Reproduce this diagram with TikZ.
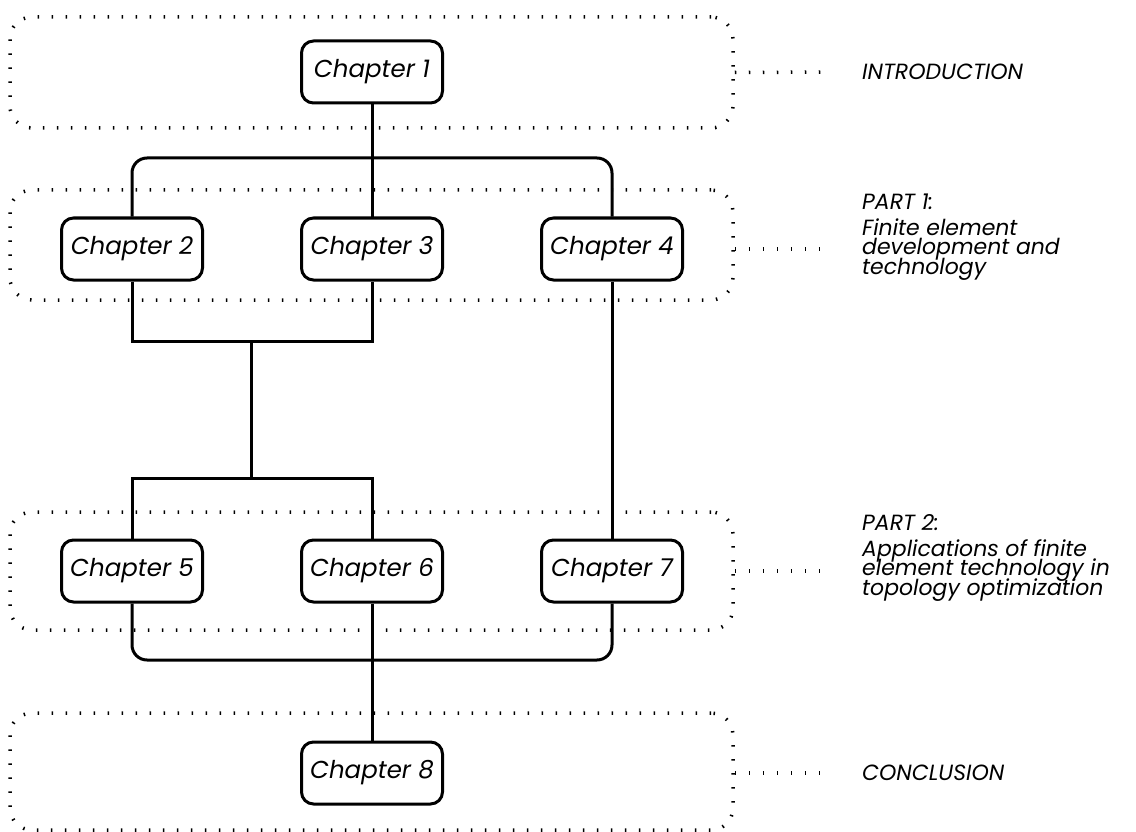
\documentclass[tikz,border=0pt]{standalone}
\usepackage{fontspec}
\setmainfont{Poppins}
\newcommand\tightlines{\lineskiplimit=-30pt\relax}
\tikzset{
  chap/.style={draw, line width=3pt, rounded corners=12pt, minimum width=141pt, minimum height=62pt, inner sep=0pt, font=\itshape\fontsize{24.5}{24.5}\selectfont},
  grp/.style={draw, line width=3.5pt, dash pattern=on 1.5pt off 12.5pt, rounded corners=22pt, minimum width=723pt, inner sep=0pt},
  lbl/.style={align=left, inner sep=0pt, font=\itshape\fontsize{22}{19.5}\selectfont\tightlines},
  conn/.style={line width=3pt},
  leader/.style={line width=3.5pt, dash pattern=on 1.5pt off 12.5pt}
}
\begin{document}
\begin{tikzpicture}[x=1pt, y=-1pt]
				\useasboundingbox (0,0) rectangle (1136,832);
				% 1. 虚线分组框 (最底层)
				\node[grp, minimum height=111pt] (intro) at (371.5, 72.5) {};
				\node[grp, minimum height=110pt] (part1) at (371.5, 245) {};
				\node[grp, minimum height=118pt] (part2) at (371.5, 571) {};
				\node[grp, minimum height=117pt] (concl) at (371.5, 771.5) {};
				
				% 2. 章节框
				\node[chap] (c1) at (372, 72) {Chapter 1};
				\node[chap] (c2) at (132, 249) {Chapter 2};
				\node[chap] (c3) at (372, 249) {Chapter 3};
				\node[chap] (c4) at (612, 249) {Chapter 4};
				\node[chap] (c5) at (132, 571) {Chapter 5};
				\node[chap] (c6) at (372, 571) {Chapter 6};
				\node[chap] (c7) at (612, 571) {Chapter 7};
				\node[chap] (c8) at (372, 773) {Chapter 8};
				
				% 3. 连接线
				\coordinate (bus1) at (372, 158);
				\coordinate (bus2) at (251, 341);
				\coordinate (bus3) at (251, 478);
				\coordinate (bus4) at (372, 660);
				\draw[conn] (c1.south) -- (c3.north);
				\draw[conn, rounded corners=15pt] (c2.north) |- (bus1) -| (c4.north);
				\draw[conn] (c2.south) |- (bus2) -| (c3.south);
				\draw[conn] (bus2) -- (bus3);
				\draw[conn] (c5.north) |- (bus3) -| (c6.north);
				\draw[conn] (c4.south) -- (c7.north);
				\draw[conn, rounded corners=15pt] (c5.south) |- (bus4) -| (c7.south);
				\draw[conn] (c6.south) -- (c8.north);
				
				% 4. 右侧说明
				\node[lbl, anchor=west] (lintro) at (862, 72) {INTRODUCTION};
				\node[lbl, anchor=base west] (lpart1) at (862, 274) {PART 1:\\[6pt]Finite element\\development and\\technology};
				\node[lbl, anchor=base west] (lpart2) at (862, 595) {PART 2:\\[6pt]Applications of finite\\element technology in\\topology optimization};
				\node[lbl, anchor=west] (lconcl) at (862, 773) {CONCLUSION};
				\draw[leader] (intro.east) -- (830, 72);
				\draw[leader] (part1.east |- c4) -- (830, 249);
				\draw[leader] (part2.east) -- (830, 571);
				\draw[leader] (concl.east |- c8) -- (830, 773);
			\end{tikzpicture}
\end{document}
